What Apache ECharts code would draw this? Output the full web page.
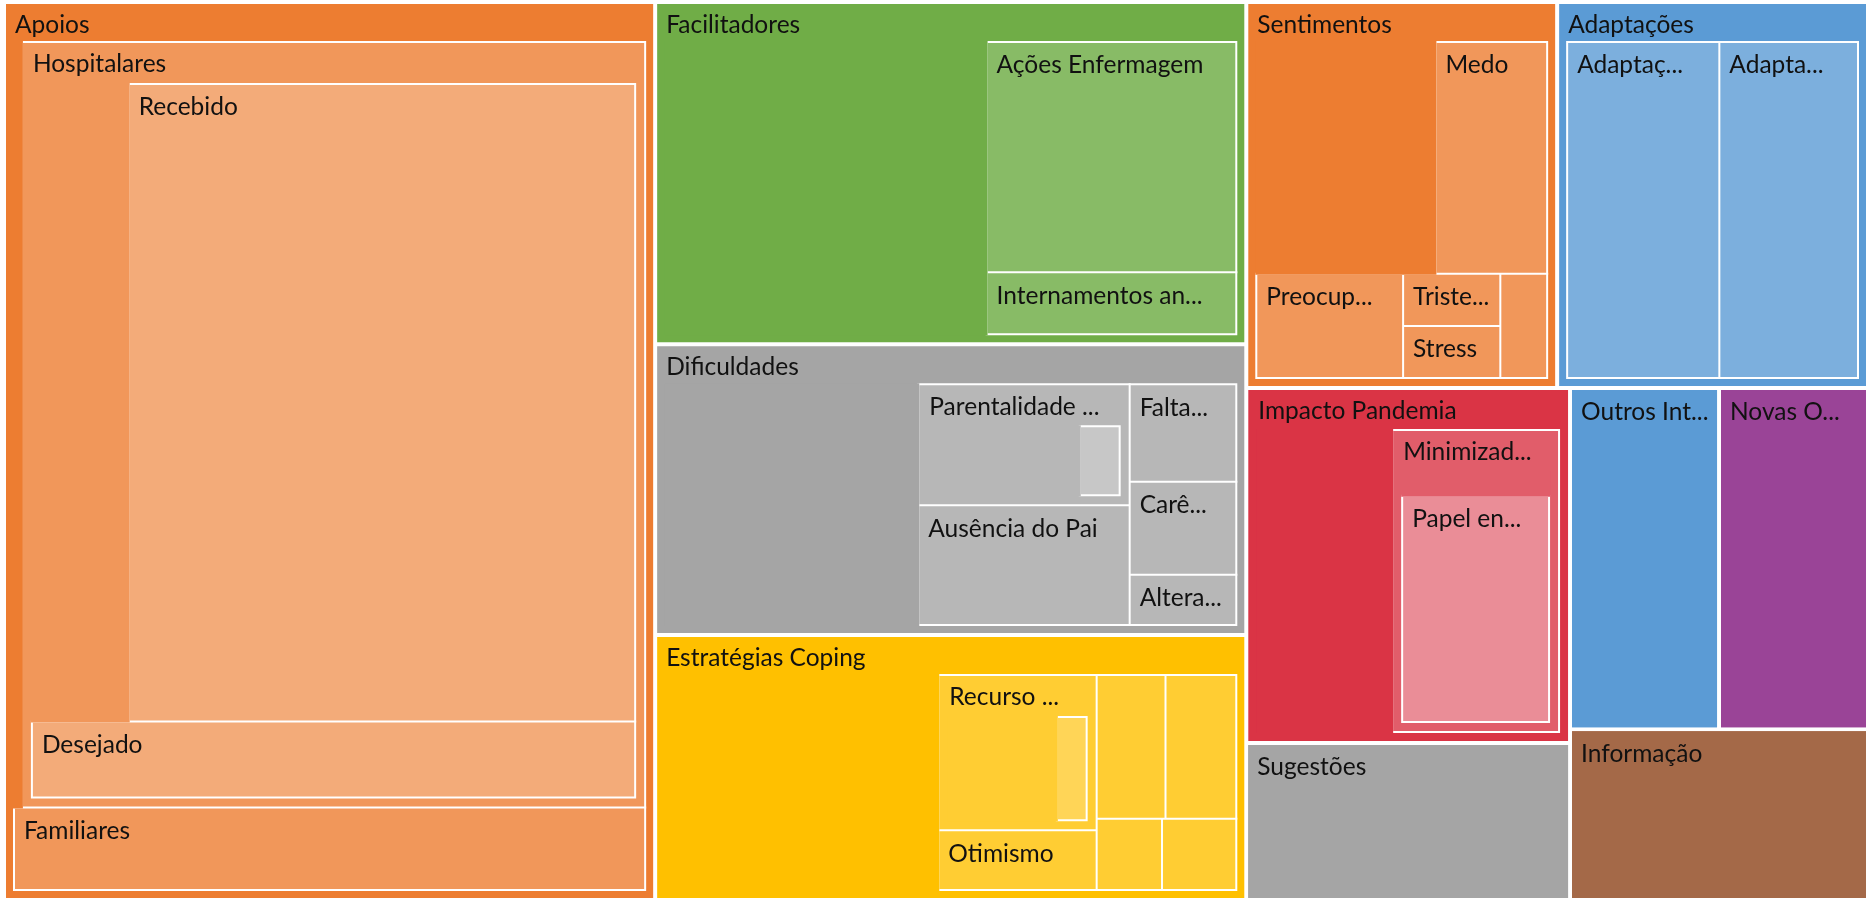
<!DOCTYPE html>
<html>
<head>
<meta charset="utf-8">
<script src="https://cdn.jsdelivr.net/npm/echarts@6/dist/echarts.min.js"></script>
<style>
html,body{margin:0;padding:0;background:#ffffff;}
#chart{width:1871px;height:898px;}
</style>
</head>
<body>
<div id="chart"></div>
<script>
// ---------------- data ----------------
// null name = the parent's own (unlabelled) share of the area
const apoiosOwn = 1.3;
const hospitalaresNames  = [null, 'Recebido', 'Desejado'];
const hospitalaresValues = [14.7, 76.9, 10.9];
const familiaresValue = 11.2;

const facilitadoresNames  = [null, 'Ações Enfermagem', 'Internamentos an...'];
const facilitadoresValues = [22.4, 13.7, 3.7];

const parentalidadeNames  = [null, ''];
const parentalidadeValues = [4.97, 1.31];
const dificuldadesNames  = [null, 'Parentalidade ...', 'Ausência do Pai', 'Falta...', 'Carê...', 'Altera...'];
const dificuldadesValues = [14.98, null, 6.23, 2.55, 2.44, 1.32];

const recursoNames  = [null, ''];
const recursoValues = [4.84, 1.33];
const estrategiasNames  = [null, 'Recurso ...', 'Otimismo', '', '', '', ''];
const estrategiasValues = [14.73, null, 2.37, 2.48, 2.55, 1.17, 1.33];

const sentimentosNames  = [null, 'Medo', 'Preocup...', 'Triste...', 'Stress', ''];
const sentimentosValues = [10.02, 6.25, 3.70, 1.23, 1.22, 1.18];

const adaptacoesNames  = ['Adaptaç...', 'Adapta...'];
const adaptacoesValues = [12.35, 11.25];

const impactoOwn = 10.1;
const minimizadNames  = [null, 'Papel en...'];
const minimizadValues = [1.19, 11.31];

const singleNames  = ['Sugestões', 'Outros Int...', 'Novas O...', 'Informação'];
const singleValues = [10, 10, 10, 10];

// ---------------- styles ----------------
const palette = {
  orange: '#ED7D31', green: '#70AD47', gray: '#A5A5A5', yellow: '#FFC000',
  blue: '#5B9BD5', red: '#DA3445', purple: '#9A4497', brown: '#A46948'
};
const FONT = {fontFamily: 'Lato, "Open Sans", sans-serif', fontSize: 24.5, color: '#111111', lineHeight: 24};

function mix(hex, t) {
  const n = parseInt(hex.slice(1), 16);
  const r = (n >> 16) & 255, g = (n >> 8) & 255, b = n & 255;
  const f = c => Math.round(c + (255 - c) * t).toString(16).padStart(2, '0');
  return '#' + f(r) + f(g) + f(b);
}
function own(value, color) {
  return {name: '', value, itemStyle: {color, borderColor: color, borderWidth: 0}, label: {show: false}};
}
function leaf(name, value, color) {
  return {name, value, itemStyle: {color, borderColor: '#ffffff', borderWidth: 2},
    label: Object.assign({show: name !== '', position: 'insideTopLeft', distance: 0, padding: [10.5, 0, 0, 9], overflow: 'none'}, FONT)};
}
function boxed(name, children, color) {
  return {name: '', itemStyle: {color: '#ffffff', borderColor: '#ffffff', borderWidth: 2, gapWidth: 0},
    label: {show: false}, upperLabel: {show: false, height: 0},
    children: [{name, itemStyle: {color, borderColor: color, borderWidth: 8, gapWidth: -2},
      label: {show: false},
      upperLabel: Object.assign({show: true, height: 40, position: [0, 21.5], verticalAlign: 'middle', padding: [0, 0, 0, 2], overflow: 'none'}, FONT),
      children}]};
}
function kids(names, values, base, shade, sub) {
  return names.map((n, i) => {
    if (n === null) return own(values[i], base);
    if (sub && sub[n]) return boxed(n, sub[n], shade);
    return leaf(n, values[i], shade);
  });
}
function topNode(name, color, children, bw, uh) {
  return {name, children, itemStyle: {color, borderColor: color, borderWidth: bw || 7, gapWidth: -2},
    label: {show: false},
    upperLabel: Object.assign({show: true, height: uh || 37, position: [0, 21], verticalAlign: 'middle', padding: [0, 0, 0, 2], overflow: 'none'}, FONT)};
}
function topLeaf(name, value, color) {
  return {name, value, itemStyle: {color, borderColor: color, borderWidth: 0},
    label: Object.assign({show: true, position: 'insideTopLeft', distance: 0, padding: [10.5, 0, 0, 9], overflow: 'none'}, FONT)};
}

const L2 = c => mix(c, 0.2);
const L3 = c => mix(c, 0.38);
const O = palette.orange, G = palette.green, Y = palette.yellow, GR = palette.gray, B = palette.blue, R = palette.red;

const data = [
  topNode('Apoios', O, [
    own(apoiosOwn, O),
    boxed('Hospitalares', kids(hospitalaresNames, hospitalaresValues, L2(O), mix(O, 0.35)), L2(O)),
    leaf('Familiares', familiaresValue, L2(O))
  ]),
  topNode('Facilitadores', G, kids(facilitadoresNames, facilitadoresValues, G, mix(G, 0.17))),
  topNode('Dificuldades', GR, kids(dificuldadesNames, dificuldadesValues, GR, L2(GR), {
    'Parentalidade ...': kids(parentalidadeNames, parentalidadeValues, L2(GR), L3(GR))
  })),
  topNode('Estratégias Coping', Y, kids(estrategiasNames, estrategiasValues, Y, L2(Y), {
    'Recurso ...': kids(recursoNames, recursoValues, L2(Y), mix(Y, 0.34))
  })),
  topNode('Sentimentos', O, kids(sentimentosNames, sentimentosValues, O, L2(O))),
  topNode('Adaptações', B, kids(adaptacoesNames, adaptacoesValues, B, L2(B))),
  topNode('Impacto Pandemia', R, [
    own(impactoOwn, R),
    boxed('Minimizad...', kids(minimizadNames, minimizadValues, L2(R), mix(R, 0.44)), L2(R))
  ], 8, 39),
  topLeaf(singleNames[0], singleValues[0], palette.gray),
  topLeaf(singleNames[1], singleValues[1], palette.blue),
  topLeaf(singleNames[2], singleValues[2], palette.purple),
  topLeaf(singleNames[3], singleValues[3], palette.brown)
];

const chart = echarts.init(document.getElementById('chart'), null, {renderer: 'canvas'});
chart.setOption({
  animation: false,
  series: [{
    type: 'treemap',
    left: 6, top: 4, right: 5, bottom: 0,
    roam: false, nodeClick: false,
    breadcrumb: {show: false},
    sort: false,
    squareRatio: 1.5,
    visibleMin: 0,
    itemStyle: {borderColor: '#ffffff', borderWidth: 0, gapWidth: 4},
    levels: [{itemStyle: {borderColor: '#ffffff', borderWidth: 0, gapWidth: 4}}],
    upperLabel: {show: false},
    label: Object.assign({show: true, position: 'insideTopLeft'}, FONT),
    emphasis: {disabled: true},
    data
  }]
});
</script>
</body>
</html>
